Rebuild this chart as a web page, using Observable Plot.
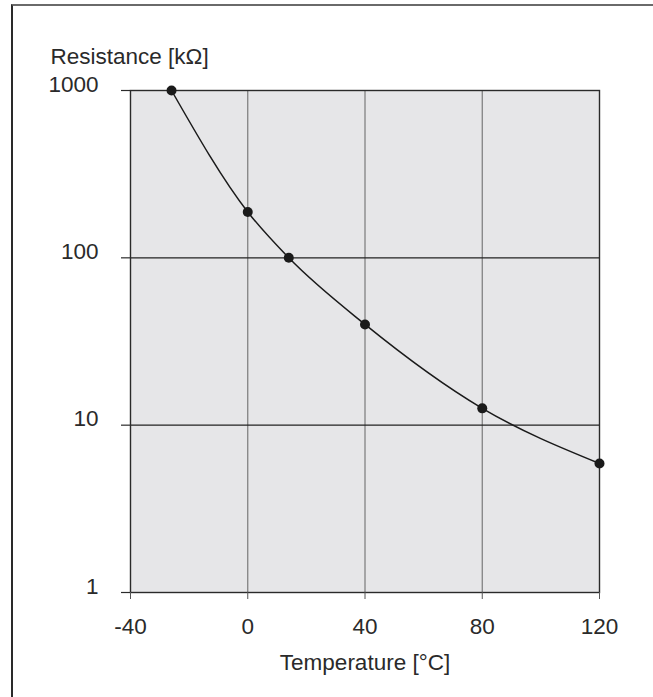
<!DOCTYPE html>
<html>
<head>
<meta charset="utf-8">
<script src="https://cdn.jsdelivr.net/npm/d3@7"></script>
<script src="https://cdn.jsdelivr.net/npm/@observablehq/plot@0.6"></script>
<style>
  html, body { margin: 0; padding: 0; background: #fff; }
  #wrap { position: relative; width: 653px; height: 697px; overflow: hidden; }
  #wrap svg { position: absolute; left: 0; top: 0; }
  #border { position: absolute; left: 11px; top: 4px; right: -5px; bottom: -5px;
            border-top: 2px solid #6a6a6a; border-left: 2px solid #2a2a2a; }
</style>
</head>
<body>
<div id="wrap"><div id="border"></div></div>
<script>
const temperatures = [-26, 0, 14, 40, 80, 120];
const resistances = [1000, 188, 100, 40, 12.6, 5.9];
const xTicks = [-40, 0, 40, 80, 120];
const yTicks = [1, 10, 100, 1000];
const xGrid = [0, 40, 80];
const yGrid = [10, 100];
const xLabel = "Temperature [°C]";
const yLabel = "Resistance [kΩ]";

const data = temperatures.map((t, i) => ({t, r: resistances[i]}));
const font = "'Liberation Sans', Arial, Helvetica, sans-serif";

const chart = Plot.plot({
  width: 653,
  height: 697,
  marginLeft: 130,
  marginRight: 54,
  marginTop: 90,
  marginBottom: 105,
  style: {fontFamily: font, background: "transparent", color: "#2a2a2a"},
  x: {domain: [-40, 120]},
  y: {type: "log", domain: [1, 1000]},
  marks: [
    Plot.frame({fill: "#e6e6e8", stroke: null}),
    Plot.ruleX(xGrid, {stroke: "#7a7a7a", strokeWidth: 1.2}),
    Plot.ruleY(yGrid, {stroke: "#222", strokeWidth: 1.2}),
    Plot.frame({stroke: "#2a2a2a", strokeWidth: 1.4}),
    Plot.axisY(yTicks, {anchor: "left", tickSize: 9, tickFormat: () => "", stroke: "#2a2a2a", strokeWidth: 1.2, label: null}),
    Plot.text(yTicks, {y: d => d, text: d => String(d), frameAnchor: "left", dx: -32, dy: -6,
      textAnchor: "end", fontSize: 22.5, fill: "#2a2a2a"}),
    Plot.axisX(xTicks, {anchor: "bottom", tickSize: 7, tickPadding: 19, fontSize: 22.5,
      tickFormat: d => String(d), stroke: "#555", label: null, fill: "#2a2a2a"}),
    Plot.line(data, {x: "t", y: "r", curve: "monotone-x", stroke: "#1a1a1a", strokeWidth: 1.5}),
    Plot.dot(data, {x: "t", y: "r", r: 5, fill: "#1a1a1a", stroke: null}),
    Plot.text([xLabel], {frameAnchor: "bottom", dy: 77, fontSize: 22.5, fill: "#2a2a2a"}),
    Plot.text([yLabel], {frameAnchor: "top-left", dx: -80, dy: -42, textAnchor: "start", fontSize: 22.5, fill: "#2a2a2a"})
  ]
});
document.getElementById("wrap").appendChild(chart);
</script>
</body>
</html>
